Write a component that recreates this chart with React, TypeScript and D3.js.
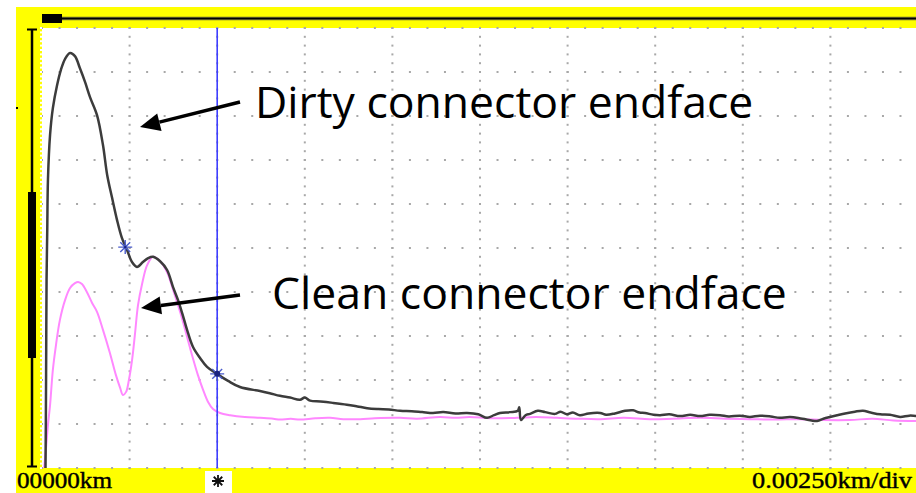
import React from "react";
import * as d3 from "d3";

// Distance in metres (0 .. 25 m = 0 .. 0.025 km, 0.0025 km/div), level in divisions (0..10)
const dirtyDist = [0.10, 0.11, 0.12, 0.13, 0.15, 0.17, 0.23, 0.31, 0.43, 0.54, 0.66, 0.80, 0.94, 1.08, 1.23, 1.37, 1.57, 1.74, 1.86, 2.00, 2.14, 2.28, 2.43, 2.57, 2.71, 2.88, 3.03, 3.17, 3.37, 3.57, 3.74, 3.88, 4.00, 4.14, 4.31, 4.51, 4.71, 4.99, 5.31, 5.65, 6.22, 6.50, 6.79, 7.08, 7.36, 7.50, 7.65, 7.95, 8.30, 8.70, 9.00, 9.28, 9.60, 9.90, 10.22, 10.55, 10.85, 11.16, 11.45, 11.80, 12.13, 12.45, 12.70, 12.90, 13.07, 13.36, 13.58, 13.62, 13.67, 13.80, 13.93, 14.15, 14.36, 14.64, 14.80, 14.98, 15.15, 15.35, 15.60, 15.93, 16.10, 16.35, 16.64, 16.87, 17.05, 17.21, 17.45, 17.64, 17.90, 18.21, 18.50, 18.78, 19.05, 19.35, 19.60, 19.92, 20.20, 20.49, 20.80, 21.05, 21.35, 21.70, 22.12, 22.30, 22.49, 22.70, 22.92, 23.20, 23.43, 23.65, 23.92, 24.20, 24.49, 24.75, 25.00];
const dirtyLevel = [0.00, 1.09, 2.68, 4.27, 5.41, 6.55, 7.57, 8.18, 8.70, 9.05, 9.30, 9.43, 9.36, 9.09, 8.77, 8.43, 8.02, 7.34, 6.66, 6.14, 5.64, 5.23, 4.95, 4.68, 4.57, 4.68, 4.77, 4.80, 4.70, 4.50, 4.11, 3.82, 3.52, 3.14, 2.75, 2.50, 2.30, 2.14, 1.98, 1.84, 1.75, 1.70, 1.64, 1.60, 1.55, 1.60, 1.53, 1.51, 1.48, 1.44, 1.40, 1.36, 1.34, 1.33, 1.30, 1.29, 1.27, 1.25, 1.27, 1.24, 1.25, 1.22, 1.14, 1.20, 1.25, 1.27, 1.30, 1.38, 1.09, 1.20, 1.23, 1.30, 1.27, 1.23, 1.28, 1.22, 1.26, 1.20, 1.24, 1.25, 1.21, 1.24, 1.30, 1.31, 1.26, 1.25, 1.21, 1.20, 1.22, 1.18, 1.21, 1.18, 1.21, 1.20, 1.17, 1.19, 1.16, 1.19, 1.17, 1.14, 1.16, 1.12, 1.07, 1.12, 1.16, 1.20, 1.24, 1.28, 1.30, 1.26, 1.22, 1.21, 1.16, 1.19, 1.18];

const cleanDist = [0.06, 0.11, 0.17, 0.23, 0.31, 0.40, 0.51, 0.66, 0.80, 0.94, 1.03, 1.14, 1.28, 1.43, 1.57, 1.74, 1.94, 2.11, 2.23, 2.31, 2.40, 2.48, 2.57, 2.65, 2.74, 2.85, 3.00, 3.17, 3.37, 3.57, 3.74, 3.94, 4.11, 4.28, 4.45, 4.60, 4.74, 4.88, 5.08, 5.37, 5.79, 6.22, 6.60, 6.79, 7.10, 7.36, 7.80, 8.22, 8.60, 9.08, 9.50, 10.22, 10.70, 11.36, 11.80, 12.20, 12.80, 13.56, 14.10, 14.70, 15.30, 15.93, 16.60, 17.35, 18.00, 18.78, 19.50, 20.20, 20.90, 21.63, 22.30, 23.06, 23.70, 24.30, 25.00];
const cleanLevel = [0.00, 0.41, 0.98, 1.43, 2.23, 2.80, 3.36, 3.82, 4.09, 4.20, 4.23, 4.18, 4.00, 3.75, 3.55, 3.14, 2.61, 2.11, 1.82, 1.66, 1.73, 2.00, 2.45, 3.02, 3.70, 4.16, 4.61, 4.80, 4.70, 4.45, 4.05, 3.55, 3.07, 2.57, 2.11, 1.77, 1.50, 1.34, 1.25, 1.20, 1.16, 1.14, 1.12, 1.10, 1.12, 1.10, 1.13, 1.14, 1.11, 1.11, 1.13, 1.14, 1.12, 1.16, 1.14, 1.16, 1.13, 1.14, 1.16, 1.14, 1.12, 1.11, 1.14, 1.11, 1.12, 1.14, 1.12, 1.11, 1.10, 1.11, 1.09, 1.09, 1.12, 1.08, 1.07];

const markerDist = [2.375, 5.0];
const markerLevel = [5.02, 2.14];
const cursorDist = 5.0;

const startLabel = "00000km";
const scaleLabel = "0.00250km/div";
const dirtyLabel = "Dirty connector endface";
const cleanLabel = "Clean connector endface";

const W = 916;
const H = 493;
const PL = 42, PR = 918, PT = 28, PB = 468;

function arrow(x1: number, y1: number, x2: number, y2: number, len = 20, hw = 9) {
  const a = Math.atan2(y2 - y1, x2 - x1);
  const bx = x2 - len * Math.cos(a);
  const by = y2 - len * Math.sin(a);
  const px = -Math.sin(a) * hw;
  const py = Math.cos(a) * hw;
  return {
    line: `M${x1},${y1}L${bx},${by}`,
    head: `M${x2},${y2}L${bx + px},${by + py}L${bx - px},${by - py}Z`,
  };
}

export default function App() {
  const x = d3.scaleLinear().domain([0, 25]).range([PL, PR]);
  const y = d3.scaleLinear().domain([0, 10]).range([PB, PT]);

  const line = d3
    .line<[number, number]>()
    .x((d) => x(d[0]))
    .y((d) => y(d[1]))
    .curve(d3.curveCatmullRom.alpha(0.5));

  const dirty: [number, number][] = dirtyDist.map((d, i) => [d, dirtyLevel[i]]);
  const clean: [number, number][] = cleanDist.map((d, i) => [d, cleanLevel[i]]);

  // grid dots
  const dots: { cx: number; cy: number }[] = [];
  const vTicks = d3.range(1, 10);
  const hTicks = d3.range(1, 10);
  vTicks.forEach((v) => {
    d3.range(0, 10.001, 0.2).forEach((l) => dots.push({ cx: x(v * 2.5), cy: y(l) }));
  });
  hTicks.forEach((l) => {
    d3.range(0, 25.001, 0.5).forEach((m) => dots.push({ cx: x(m), cy: y(l) }));
  });
  [0, 10].forEach((l) => {
    d3.range(0, 25.001, 0.5).forEach((m) => dots.push({ cx: x(m), cy: y(l) }));
  });
  const leftDots = d3.range(0, 10.001, 0.1).map((l) => y(l));

  const a1 = arrow(240, 102, 140, 127);
  const a2 = arrow(240, 295, 141, 308);

  const star = (cx: number, cy: number, r: number) =>
    d3.range(0, 4).map((k) => {
      const ang = (k * Math.PI) / 4;
      return `M${cx - r * Math.cos(ang)},${cy - r * Math.sin(ang)}L${cx + r * Math.cos(ang)},${cy + r * Math.sin(ang)}`;
    }).join("");

  return (
    <svg
      width={W}
      height={H}
      viewBox={`0 0 ${W} ${H}`}
      style={{ position: "absolute", left: 0, top: 0, display: "block" }}
    >
      <defs>
        <clipPath id="plot">
          <rect x={PL} y={PT} width={PR - PL} height={PB - PT} />
        </clipPath>
      </defs>
      <rect x={0} y={0} width={W} height={H} fill="#ffffff" />
      {/* yellow frame */}
      <rect x={16} y={7} width={W - 16} height={PT - 7} fill="#ffff00" />
      <rect x={16} y={7} width={PL - 16} height={H - 7} fill="#ffff00" />
      <rect x={16} y={PB} width={W - 16} height={H - PB} fill="#ffff00" />
      {/* top scale bar */}
      <line x1={PL} x2={W} y1={18.5} y2={18.5} stroke="#6a6a30" strokeWidth={3.5} />
      <line x1={PL} x2={W} y1={18.5} y2={18.5} stroke="#000" strokeWidth={1.5} />
      <rect x={42} y={14} width={20} height={9} fill="#000" />
      {/* left level bar */}
      <line x1={32} x2={32} y1={29} y2={467} stroke="#000" strokeWidth={2.5} />
      <line x1={27} x2={37} y1={29.5} y2={29.5} stroke="#000" strokeWidth={2} />
      <line x1={27} x2={37} y1={466.5} y2={466.5} stroke="#000" strokeWidth={2} />
      <rect x={28} y={192} width={8} height={166} fill="#000" />
      <rect x={16} y={107} width={2} height={2} fill="#000" />
      {/* plot area */}
      <rect x={PL} y={PT} width={PR - PL} height={PB - PT} fill="#ffffff" />
      {dots.map((d, i) => (
        <rect key={i} x={d.cx - 1} y={d.cy - 1} width={2} height={2} fill="#a8a8a8" />
      ))}
      {leftDots.map((cy, i) => (
        <rect key={"l" + i} x={40} y={cy - 1} width={2} height={2} fill="#ffffff" />
      ))}
      <g clipPath="url(#plot)">
        <path d={line(clean) || ""} fill="none" stroke="#ff88ff" strokeWidth={2} />
        <path d={line(dirty) || ""} fill="none" stroke="#3c3c3c" strokeWidth={2.5} />
      </g>
      {/* cursor */}
      <line x1={x(cursorDist)} x2={x(cursorDist)} y1={PT} y2={PB} stroke="#3f3fff" strokeWidth={1.6} />
      {markerDist.map((m, i) => (
        <g key={"m" + i}>
          <path d={star(x(m), y(markerLevel[i]), 7)} stroke="#4a5ccc" strokeWidth={1.4} fill="none" />
          <circle cx={x(m)} cy={y(markerLevel[i])} r={i === 1 ? 3 : 1.2} fill="#1a237e" />
        </g>
      ))}
      {/* bottom labels */}
      <text
        x={17}
        y={487.5}
        fontFamily="'Liberation Serif', 'DejaVu Serif', serif"
        fontSize={23}
        fill="#000"
        stroke="#000"
        strokeWidth={0.4}
        textLength={95}
        lengthAdjust="spacingAndGlyphs"
      >
        {startLabel}
      </text>
      <rect x={205} y={471} width={27} height={22} fill="#ffffff" />
      <path d={star(218, 481, 6)} stroke="#111" strokeWidth={1.8} fill="none" />
      <text
        x={752}
        y={487.5}
        textLength={160}
        lengthAdjust="spacingAndGlyphs"
        fontFamily="'Liberation Serif', 'DejaVu Serif', serif"
        fontSize={23}
        fill="#000"
        stroke="#000"
        strokeWidth={0.4}
      >
        {scaleLabel}
      </text>
      {/* annotations */}
      <text x={255} y={118} fontFamily="'Open Sans', 'Noto Sans', sans-serif" fontSize={44.5} fill="#000">
        {dirtyLabel}
      </text>
      <text x={272} y={309} fontFamily="'Open Sans', 'Noto Sans', sans-serif" fontSize={44.5} fill="#000">
        {cleanLabel}
      </text>
      <path d={a1.line} stroke="#000" strokeWidth={3.5} fill="none" />
      <path d={a1.head} fill="#000" />
      <path d={a2.line} stroke="#000" strokeWidth={3.5} fill="none" />
      <path d={a2.head} fill="#000" />
    </svg>
  );
}
